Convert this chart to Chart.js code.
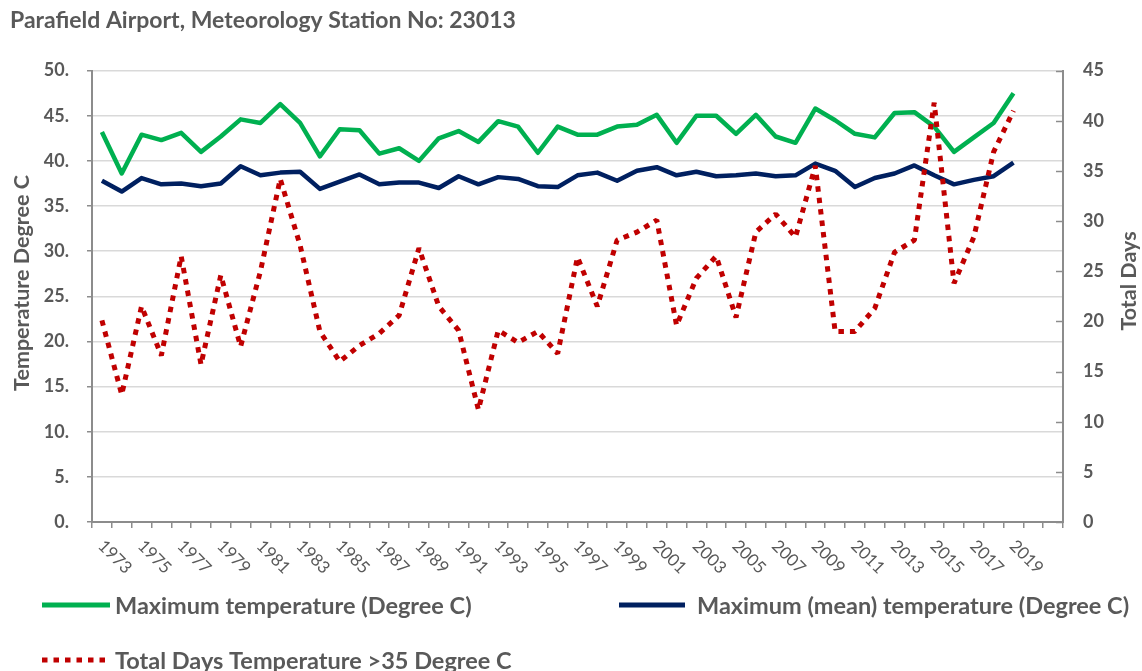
<!DOCTYPE html>
<html><head><meta charset="utf-8">
<script src="https://cdn.jsdelivr.net/npm/chart.js@4.4.1/dist/chart.umd.min.js"></script>
<style>
html,body{margin:0;padding:0;background:#fff;}
#wrap{position:relative;width:1142px;height:671px;}
canvas{display:block;}
</style></head><body>
<div id="wrap"><canvas id="c" width="1142" height="671"></canvas></div>
<script>
const titleText = 'Parafield Airport, Meteorology Station No: 23013';
const years = ['1973','1974','1975','1976','1977','1978','1979','1980','1981','1982',
  '1983','1984','1985','1986','1987','1988','1989','1990','1991','1992',
  '1993','1994','1995','1996','1997','1998','1999','2000','2001','2002',
  '2003','2004','2005','2006','2007','2008','2009','2010','2011','2012',
  '2013','2014','2015','2016','2017','2018','2019'];
const blankCategories = ['', ''];
const maxTemp = [43.2, 38.6, 42.9, 42.3, 43.1, 41.0, 42.7, 44.6, 44.2, 46.3,
  44.2, 40.5, 43.5, 43.4, 40.8, 41.4, 40.0, 42.5, 43.3, 42.1,
  44.4, 43.8, 40.9, 43.8, 42.9, 42.9, 43.8, 44.0, 45.1, 42.0,
  45.0, 45.0, 43.0, 45.1, 42.7, 42.0, 45.8, 44.5, 43.0, 42.6,
  45.3, 45.4, 43.8, 41.0, 42.6, 44.2, 47.5];
const meanMaxTemp = [37.8, 36.6, 38.1, 37.4, 37.5, 37.2, 37.5, 39.4, 38.4, 38.7,
  38.8, 36.9, 37.7, 38.5, 37.4, 37.6, 37.6, 37.0, 38.3, 37.4,
  38.2, 38.0, 37.2, 37.1, 38.4, 38.7, 37.8, 38.9, 39.3, 38.4,
  38.8, 38.3, 38.4, 38.6, 38.3, 38.4, 39.7, 38.9, 37.1, 38.1,
  38.6, 39.5, 38.4, 37.4, 37.9, 38.3, 39.8];
const daysOver35 = [20.1, 12.7, 21.5, 16.6, 26.5, 15.7, 24.6, 17.5, 25.0, 34.2,
  27.6, 19.0, 16.0, 17.6, 18.8, 20.6, 27.3, 21.5, 19.1, 11.2,
  19.1, 17.9, 19.0, 16.8, 26.4, 21.5, 28.1, 28.9, 30.1, 19.6,
  24.3, 26.5, 20.4, 28.9, 30.7, 28.4, 35.5, 19.0, 19.0, 21.3,
  26.9, 28.1, 41.8, 23.8, 28.4, 36.9, 41.0];
const seriesNames = ['Maximum temperature (Degree C)',
  'Maximum (mean) temperature (Degree C)',
  'Total Days Temperature >35 Degree C'];
const leftAxisTitle = 'Temperature Degree C';
const rightAxisTitle = 'Total Days';

const FONT = "Lato, 'Open Sans', sans-serif";
const TXT = '#595959';
const AXIS = '#8c8c8c';
const GRID = '#d9d9d9';
const RED_DASH = [5.5, 6];

const extras = {
  id: 'extras',
  afterDraw(chart) {
    const ctx = chart.ctx;
    const xs = chart.scales.x, y1 = chart.scales.y1, ca = chart.chartArea;
    ctx.save();
    // rotated category labels (every other year)
    ctx.fillStyle = TXT;
    ctx.font = '17px ' + FONT;
    ctx.textAlign = 'left';
    ctx.textBaseline = 'top';
    chart.data.labels.forEach((lab, i) => {
      if (!lab || i % 2 !== 0) return;
      const x = xs.getPixelForValue(i);
      ctx.save();
      ctx.translate(x + 5, ca.bottom + 15);
      ctx.rotate(Math.PI / 4);
      ctx.fillText(lab, 0, 0);
      ctx.restore();
    });
    // inward tick marks on right axis
    ctx.strokeStyle = AXIS;
    ctx.lineWidth = 1.5;
    y1.ticks.forEach(t => {
      const y = Math.round(y1.getPixelForValue(t.value)) + 0.5;
      ctx.beginPath();
      ctx.moveTo(ca.right - 7, y);
      ctx.lineTo(ca.right, y);
      ctx.stroke();
    });
    // axis titles
    ctx.font = 'bold 21.5px ' + FONT;
    ctx.textAlign = 'center';
    ctx.textBaseline = 'middle';
    ctx.save();
    ctx.translate(22, 283);
    ctx.rotate(-Math.PI / 2);
    ctx.fillText(leftAxisTitle, 0, 0);
    ctx.restore();
    ctx.save();
    ctx.translate(1129, 281);
    ctx.rotate(-Math.PI / 2);
    ctx.fillText(rightAxisTitle, 0, 0);
    ctx.restore();
    // legend
    const items = [
      {ds: chart.data.datasets[0], x0: 42, x1: 110, tx: 115, y: 605},
      {ds: chart.data.datasets[1], x0: 619, x1: 685, tx: 697, y: 605},
      {ds: chart.data.datasets[2], x0: 42, x1: 110, tx: 115, y: 660}
    ];
    ctx.font = 'bold 23.5px ' + FONT;
    ctx.textAlign = 'left';
    ctx.textBaseline = 'middle';
    items.forEach(it => {
      ctx.save();
      ctx.strokeStyle = it.ds.borderColor;
      ctx.lineWidth = 5;
      ctx.lineCap = 'butt';
      ctx.setLineDash(it.ds.borderDash || []);
      ctx.beginPath();
      ctx.moveTo(it.x0, it.y);
      ctx.lineTo(it.x1, it.y);
      ctx.stroke();
      ctx.restore();
      ctx.fillStyle = TXT;
      ctx.fillText(it.ds.label, it.tx, it.y + 1);
    });
    ctx.restore();
  }
};

new Chart(document.getElementById('c').getContext('2d'), {
  type: 'line',
  data: {
    labels: years.concat(blankCategories),
    datasets: [
      {label: seriesNames[0], data: maxTemp, yAxisID: 'y', borderColor: '#00b050', backgroundColor: '#00b050',
       borderWidth: 4.5, pointRadius: 0, tension: 0, borderJoinStyle: 'round', order: 3},
      {label: seriesNames[1], data: meanMaxTemp, yAxisID: 'y', borderColor: '#002060', backgroundColor: '#002060',
       borderWidth: 4.5, pointRadius: 0, tension: 0, borderJoinStyle: 'round', order: 2},
      {label: seriesNames[2], data: daysOver35, yAxisID: 'y1', borderColor: '#c00000', backgroundColor: '#c00000',
       borderWidth: 5, borderDash: RED_DASH, borderCapStyle: 'butt', borderJoinStyle: 'bevel',
       pointRadius: 0, tension: 0, order: 1}
    ]
  },
  options: {
    responsive: false, animation: false, devicePixelRatio: 1,
    layout: {padding: {left: 10, right: 0, top: 0, bottom: 0}},
    plugins: {
      legend: {display: false},
      tooltip: {enabled: false},
      title: {display: true, text: titleText, align: 'start', color: TXT,
        font: {family: FONT, size: 23, weight: 'bold', lineHeight: 1.2}, padding: {top: 7, bottom: 36}}
    },
    scales: {
      x: {
        type: 'category', offset: true,
        grid: {offset: true, drawOnChartArea: false, drawTicks: true, tickLength: 6, tickColor: AXIS, lineWidth: 1.5},
        border: {color: AXIS, width: 2},
        ticks: {display: false, autoSkip: false},
        afterFit(s) { s.height = 149; }
      },
      y: {
        position: 'left', min: 0, max: 50,
        ticks: {stepSize: 5, color: TXT, font: {family: FONT, size: 18, weight: 'bold'}, padding: 18,
          callback: v => v + '.'},
        grid: {color: GRID, lineWidth: 1.5, tickLength: 5, tickColor: AXIS},
        border: {color: AXIS, width: 2},
        afterFit(s) { s.width = 82; }
      },
      y1: {
        position: 'right', min: 0, max: 45,
        ticks: {stepSize: 5, color: TXT, font: {family: FONT, size: 18, weight: 'bold'}, padding: 20},
        grid: {drawOnChartArea: false, drawTicks: false},
        border: {color: AXIS, width: 2},
        afterFit(s) { s.width = 79; }
      }
    }
  },
  plugins: [extras]
});
</script>
</body></html>
